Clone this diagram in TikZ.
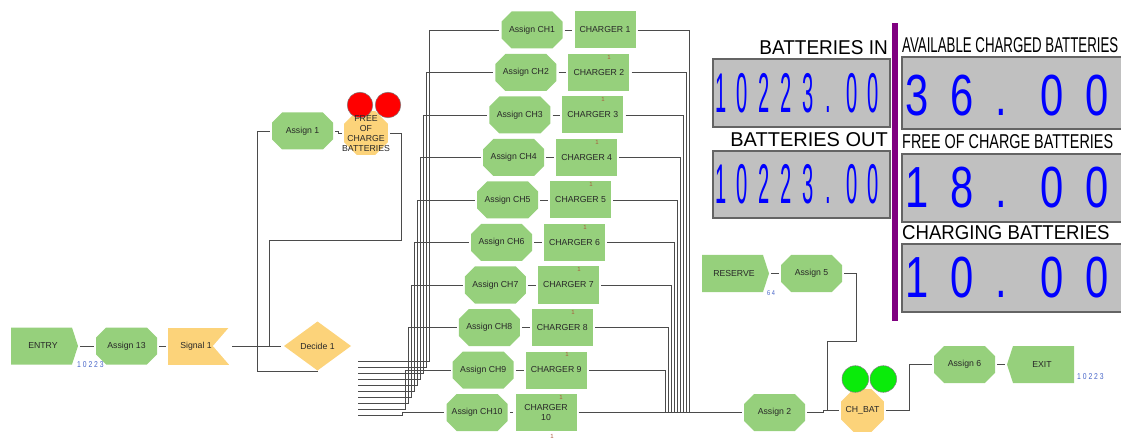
\documentclass[tikz,border=0pt]{standalone}
\usepackage{fontspec}
\setmainfont{Liberation Sans}
\usepackage{graphicx}
\usetikzlibrary{shapes.misc,shapes.geometric}
\definecolor{grn}{RGB}{150,208,124}
\definecolor{ylw}{RGB}{252,211,122}
\definecolor{ln}{RGB}{75,75,75}
\definecolor{txt}{RGB}{40,40,40}
\definecolor{cnt}{RGB}{70,100,200}
\definecolor{panel}{RGB}{192,192,192}
\definecolor{pborder}{RGB}{100,100,100}
\definecolor{prp}{RGB}{128,0,128}
\definecolor{mkcol}{RGB}{170,90,60}
\definecolor{lgrn}{RGB}{10,235,10}
\begin{document}
\begin{tikzpicture}[x=1pt,y=-1pt,
  every node/.style={font=\fontsize{8.7}{9.8}\selectfont, text=txt},
  conn/.style={draw=ln, line width=0.9pt},
  asg/.style={chamfered rectangle, chamfered rectangle xsep=6pt, chamfered rectangle ysep=6pt,
    fill=grn, minimum width=61pt, minimum height=37pt, inner sep=0pt},
  chg/.style={rectangle, fill=grn, minimum width=61pt, minimum height=37pt, inner sep=0pt},
  entryshape/.style={rectangle, minimum width=67pt, minimum height=37pt, inner sep=0pt,
    path picture={\fill[grn] (path picture bounding box.north west) -- ([xshift=-6pt]path picture bounding box.north east)
      -- (path picture bounding box.east) -- ([xshift=-6pt]path picture bounding box.south east)
      -- (path picture bounding box.south west) -- cycle;}},
  exitshape/.style={rectangle, minimum width=67pt, minimum height=37pt, inner sep=0pt,
    path picture={\fill[grn] (path picture bounding box.west) -- ([xshift=6pt]path picture bounding box.north west)
      -- (path picture bounding box.north east) -- (path picture bounding box.south east)
      -- ([xshift=6pt]path picture bounding box.south west) -- cycle;}},
  sigshape/.style={rectangle, minimum width=61pt, minimum height=37pt, inner sep=0pt, fill=ylw,
    path picture={\fill[white] (path picture bounding box.north east) -- ([xshift=-16pt]path picture bounding box.east)
      -- (path picture bounding box.south east) -- cycle;}},
  decshape/.style={rectangle, minimum width=67pt, minimum height=49pt, inner sep=0pt,
    path picture={\fill[ylw] (path picture bounding box.north) -- (path picture bounding box.east)
      -- (path picture bounding box.south) -- (path picture bounding box.west) -- cycle;}},
  octo/.style={regular polygon, regular polygon sides=8, fill=ylw, inner sep=0pt},
  counter/.style={inner sep=0pt, anchor=base west, text=cnt, font=\fontsize{8.5}{8.5}\selectfont},
  chmark/.style={inner sep=0pt, text=mkcol, font=\fontsize{6}{6}\selectfont},
  lbl/.style={inner sep=0pt, text=black, font=\fontsize{20}{20}\selectfont},
  ldig/.style={inner sep=0pt, anchor=base, text=blue, font=\fontsize{56}{56}\selectfont},
  rdig/.style={inner sep=0pt, anchor=base, text=blue, font=\fontsize{58}{58}\selectfont},
  pbox/.style={fill=panel, draw=pborder, line width=1.2pt}
]
\useasboundingbox (0,0) rectangle (1121,438);

% ---------- left flow ----------
\node[entryshape] (entry) at (44.5,346) {};
\node at (43,346) {ENTRY};
\node[asg] (a13) at (126.5,346) {Assign 13};
\node[sigshape] (sig) at (198.5,346) {};
\node at (196,346) {Signal 1};
\node[decshape] (dec) at (317.5,346) {};
\node at (317.5,346) {Decide 1};
\node[counter] at (77,367) {\scalebox{0.8}[1]{1 0 2 2 3}};

\node[asg] (a1) at (302.5,131) {Assign 1};
\node[octo, minimum size=47.6pt] (free) at (366,133) {};
\draw[draw=gray, line width=0.5pt, fill=red] (360,105) circle[radius=12.8];
\draw[draw=gray, line width=0.5pt, fill=red] (388,105) circle[radius=12.8];
\node[align=center] at (366,133.5) {FREE\\OF\\CHARGE\\BATTERIES};

\draw[conn] ([xshift=2pt]entry.east) -- ([xshift=-2pt]a13.west);
\draw[conn] ([xshift=2pt]a13.east) -- ([xshift=-2pt]sig.west);
\draw[conn] ([xshift=3pt]sig.east) -- ([xshift=-3pt]dec.west);
\coordinate (join1) at (269,346);
\draw[conn] ([xshift=2pt]free.east) -| (401,240) -| (join1);
\draw[conn] ([yshift=-1pt]dec.south) -| (257,131) -- ([xshift=-2pt]a1.west);
\draw[conn] ([xshift=2pt]a1.east) -- ++(3,0) -- ++(0,2) -- ([xshift=-2pt]free.west);

% ---------- charger column ----------
\foreach \k in {1,...,10}{
  \pgfmathsetmacro\ry{30+42.5*(\k-1)}
  \pgfmathsetmacro\ax{532-6.1*(\k-1)}
  \node[asg] (a\k) at (\ax,\ry) {Assign CH\k};
}
\foreach \k in {1,...,9}{
  \pgfmathsetmacro\ry{30+42.5*(\k-1)}
  \pgfmathsetmacro\cx{532-6.1*(\k-1)+73}
  \node[chg] (c\k) at (\cx,\ry) {CHARGER \k};
}
\node[chg, align=center] (c10) at (546,412.5) {CHARGER\\10};
\foreach \k in {1,...,10}{
  \draw[conn] ([xshift=2pt]a\k.east) -- ([xshift=-2pt]c\k.west);
}
\foreach \k in {2,...,10}{
  \pgfmathsetmacro\mx{609-6*(\k-2)}
  \pgfmathsetmacro\my{57+42.5*(\k-2)}
  \node[chmark] at (\mx,\my) {1};
}
\node[chmark] at (552,436) {1};

% decide exits to assign CH
\foreach \k in {1,...,10}{
  \pgfmathsetmacro\dy{15+6.1*(\k-1)}
  \pgfmathsetmacro\run{429-3*(\k-1)-358}
  \path (dec.east) ++(7,\dy) coordinate (dx\k);
  \draw[conn] (dx\k) -- ++(\run,0) |- ([xshift=-2pt]a\k.west);
}
% charger outputs
\foreach \k in {1,...,9}{
  \pgfmathsetmacro\xr{689-3*(\k-1)}
  \draw[conn] ([xshift=2pt]c\k.east) -| (\xr,412.5);
}

% ---------- right flow ----------
\node[asg] (asg2) at (774.5,412.5) {Assign 2};
\draw[conn] ([xshift=2pt]c10.east) -- ([xshift=-2pt]asg2.west);

\node[entryshape] (res) at (735.5,273.5) {};
\node at (734,273.5) {RESERVE};
\node[asg] (a5) at (811.5,273.5) {Assign 5};
\node[counter, font=\fontsize{7}{7}\selectfont] at (767,295) {\scalebox{0.8}[1]{6 4}};
\draw[conn] ([xshift=2pt]res.east) -- ([xshift=-2pt]a5.west);

\node[octo, minimum size=46.5pt] (chb) at (862.5,410.5) {};
\draw[draw=gray, line width=0.5pt, fill=lgrn] (855.3,379) circle[radius=13.3];
\draw[draw=gray, line width=0.5pt, fill=lgrn] (883.3,379) circle[radius=13.3];
\node at (862.5,410.5) {CH\_BAT};

\coordinate (join2) at (827,410.5);
\draw[conn] ([xshift=2pt]asg2.east) -- ++(16,0) -- ++(0,-2) -- ([xshift=-2pt]chb.west);
\draw[conn] ([xshift=2pt]a5.east) -- (856,273.5) -- (856,341) -- (827,341) -- (join2);

\node[asg] (a6) at (964.5,364.5) {Assign 6};
\node[exitshape] (exit) at (1040.5,364.5) {};
\node at (1042,364.5) {EXIT};
\node[counter] at (1077,379) {\scalebox{0.8}[1]{1 0 2 2 3}};
\draw[conn] ([xshift=2pt]chb.east) -- (909,410.5) |- ([xshift=-2pt]a6.west);
\draw[conn] ([xshift=2pt]a6.east) -- ([xshift=-2pt]exit.west);

% ---------- display panel ----------
\fill[prp] (892,23) rectangle (898,321);
\node[lbl, anchor=base east] at (888,55) {\scalebox{0.95}[1]{BATTERIES IN}};
\node[lbl, anchor=base east] at (888,147) {BATTERIES OUT};
\draw[pbox] (713,59) rectangle (890,127);
\draw[pbox] (713,151) rectangle (890,218);
\foreach \x/\c in {720.7/1,742.3/0,764.3/2,786/2,808.3/3,828.3/.,851.7/0,873.3/0}{
  \node[ldig] at (\x,113) {\scalebox{0.36}[1]{\c}};
  \node[ldig] at (\x,204) {\scalebox{0.36}[1]{\c}};
}
\node[lbl, anchor=base west, font=\fontsize{21.4}{21.4}\selectfont] at (902,53) {\scalebox{0.62}[1]{AVAILABLE CHARGED BATTERIES}};
\node[lbl, anchor=base west] at (902,149) {\scalebox{0.72}[1]{FREE OF CHARGE BATTERIES}};
\node[lbl, anchor=base west] at (902,240) {\scalebox{0.93}[1]{CHARGING BATTERIES}};
\draw[pbox] (902,57) rectangle (1123,129);
\draw[pbox] (902,154) rectangle (1123,222);
\draw[pbox] (902,244) rectangle (1123,312);
\foreach \x/\c/\d/\e in {916.7/3/1/1,962/6/8/0,1001.5/./././,1052/0/0/0,1097/0/0/0}{
  \node[rdig] at (\x,116) {\scalebox{0.72}[1]{\c}};
  \node[rdig] at (\x,208) {\scalebox{0.72}[1]{\d}};
  \node[rdig] at (\x,298) {\scalebox{0.72}[1]{\e}};
}
\end{tikzpicture}
\end{document}
